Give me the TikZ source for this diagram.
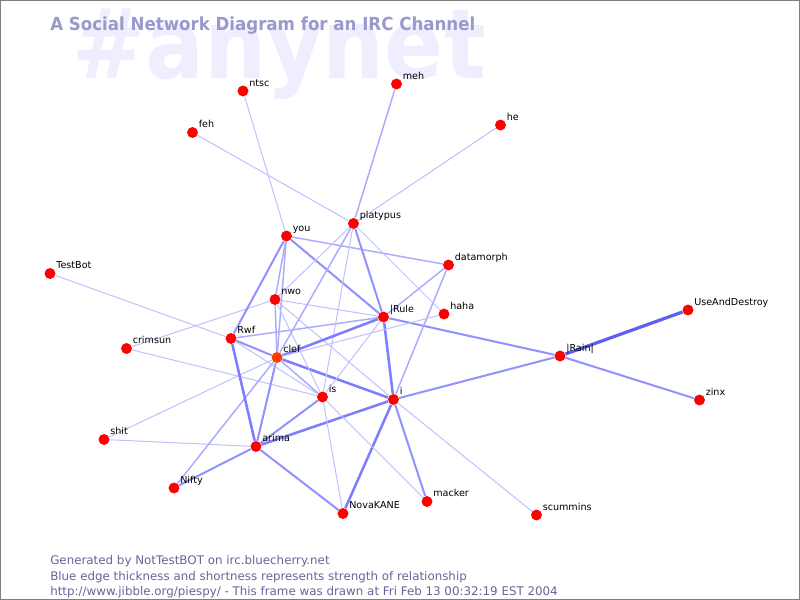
\documentclass[tikz,border=0pt]{standalone}
\usepackage{fontspec}
\setmainfont{DejaVu Sans}
\usepackage{graphicx}
\definecolor{anybg}{RGB}{238,238,255}
\definecolor{titlec}{RGB}{153,153,204}
\definecolor{footc}{RGB}{102,102,153}
\definecolor{edgeA}{RGB}{192,192,255}
\definecolor{edgeB}{RGB}{170,170,255}
\definecolor{edgeC}{RGB}{145,145,255}
\definecolor{edgeD}{RGB}{125,125,255}
\definecolor{edgeE}{RGB}{95,95,245}
\definecolor{noder}{RGB}{255,0,0}
\definecolor{nodeo}{RGB}{255,60,0}
\pgfdeclarelayer{bglayer}
\pgfdeclarelayer{edgelayer}
\pgfsetlayers{bglayer,edgelayer,main}
\begin{document}
\begin{tikzpicture}[x=0.75pt,y=-0.75pt,
  pnode/.style={circle,fill=noder,draw=none,inner sep=0pt,minimum size=8.2pt},
  lab/.style={anchor=base west,inner sep=0pt,font=\fontsize{7.2}{8}\selectfont,text=black},
  ea/.style={draw=edgeA,line width=0.75pt},
  eb/.style={draw=edgeB,line width=1.1pt},
  ec/.style={draw=edgeC,line width=1.5pt},
  ed/.style={draw=edgeD,line width=1.9pt},
  ee/.style={draw=edgeE,line width=2.4pt},
  foot/.style={anchor=base west,inner sep=0pt,text=footc,font=\fontsize{8.9}{10}\selectfont}]
\useasboundingbox (0,0) rectangle (800,600);
\begin{pgfonlayer}{bglayer}
\fill[white] (0,0) rectangle (800,600);
\draw[gray,line width=0.75pt] (0.5,0.5) rectangle (799.5,599.5);
\node[anchor=base west,inner sep=0pt,text=anybg,font=\bfseries\fontsize{66}{66}\selectfont] (anynet) at (72,78) {\scalebox{0.99}[1.1]{\#anynet}};
\node[anchor=base west,inner sep=0pt,text=titlec,font=\bfseries\fontsize{13.5}{14}\selectfont] (title) at (50,30) {\scalebox{0.924}[1]{A Social Network Diagram for an IRC Channel}};
\end{pgfonlayer}
% nodes
\node[pnode] (ntsc) at (243,91) {};
\node[pnode] (meh) at (396.5,84) {};
\node[pnode] (he) at (500.5,125) {};
\node[pnode] (feh) at (192.5,132.5) {};
\node[pnode] (platypus) at (353.5,223.5) {};
\node[pnode] (you) at (286.5,236) {};
\node[pnode] (datamorph) at (448.5,265) {};
\node[pnode] (TestBot) at (50,273.5) {};
\node[pnode] (nwo) at (275,299.5) {};
\node[pnode] (haha) at (444,314) {};
\node[pnode] (lRule) at (383.5,317) {};
\node[pnode] (UseAndDestroy) at (688,310) {};
\node[pnode] (crimsun) at (126.5,348.5) {};
\node[pnode] (Rwf) at (231,338.5) {};
\node[pnode,fill=nodeo] (clef) at (277,357.5) {};
\node[pnode] (lRain) at (560,356) {};
\node[pnode] (is) at (322.5,397) {};
\node[pnode] (i) at (393.5,399.5) {};
\node[pnode] (zinx) at (699.5,400) {};
\node[pnode] (shit) at (104,439.5) {};
\node[pnode] (arima) at (256,446.5) {};
\node[pnode] (Nifty) at (174,488) {};
\node[pnode] (macker) at (427,501.5) {};
\node[pnode] (NovaKANE) at (343,513.5) {};
\node[pnode] (scummins) at (536.5,515) {};
% labels
\node[lab] (ntsc-l) at (249,86) {ntsc};
\node[lab] (meh-l) at (402.5,79) {meh};
\node[lab] (he-l) at (506.5,120) {he};
\node[lab] (feh-l) at (198.5,127.5) {feh};
\node[lab] (platypus-l) at (359.5,218.5) {platypus};
\node[lab] (you-l) at (292.5,231) {you};
\node[lab] (datamorph-l) at (454.5,260) {datamorph};
\node[lab] (TestBot-l) at (56,268.5) {TestBot};
\node[lab] (nwo-l) at (281,294.5) {nwo};
\node[lab] (haha-l) at (450,309) {haha};
\node[lab] (lRule-l) at (389.5,312) {|Rule};
\node[lab] (UseAndDestroy-l) at (694,305) {UseAndDestroy};
\node[lab] (crimsun-l) at (132.5,343.5) {crimsun};
\node[lab] (Rwf-l) at (237,333.5) {Rwf};
\node[lab] (clef-l) at (283,352.5) {clef};
\node[lab] (lRain-l) at (566,351) {|Rain|};
\node[lab] (is-l) at (328.5,392) {is};
\node[lab] (i-l) at (399.5,394.5) {i};
\node[lab] (zinx-l) at (705.5,395) {zinx};
\node[lab] (shit-l) at (110,434.5) {shit};
\node[lab] (arima-l) at (262,441.5) {arima};
\node[lab] (Nifty-l) at (180,483) {Nifty};
\node[lab] (macker-l) at (433,496.5) {macker};
\node[lab] (NovaKANE-l) at (349,508.5) {NovaKANE};
\node[lab] (scummins-l) at (542.5,510) {scummins};
% edges
\begin{pgfonlayer}{edgelayer}
\draw[ea] (ntsc) -- (you);
\draw[ea] (feh) -- (platypus);
\draw[eb] (meh) -- (platypus);
\draw[ea] (he) -- (platypus);
\draw[ea] (TestBot) -- (Rwf);
\draw[ea] (crimsun) -- (nwo);
\draw[ea] (crimsun) -- (is);
\draw[ea] (shit) -- (clef);
\draw[ea] (shit) -- (arima);
\draw[eb] (Nifty) -- (clef);
\draw[ec] (Nifty) -- (arima);
\draw[ea] (i) -- (scummins);
\draw[ec] (i) -- (macker);
\draw[ec] (lRain) -- (i);
\draw[ec] (lRule) -- (lRain);
\draw[ec] (lRain) -- (zinx);
\draw[ee] (lRain) -- (UseAndDestroy);
\draw[ed] (i) -- (NovaKANE);
\draw[ed] (arima) -- (i);
\draw[ed] (clef) -- (i);
\draw[ed] (lRule) -- (i);
\draw[eb] (datamorph) -- (i);
\draw[ea] (nwo) -- (i);
\draw[ec] (arima) -- (NovaKANE);
\draw[ea] (is) -- (NovaKANE);
\draw[ea] (is) -- (macker);
\draw[ec] (is) -- (arima);
\draw[ed] (Rwf) -- (arima);
\draw[ec] (clef) -- (arima);
\draw[eb] (clef) -- (is);
\draw[ea] (Rwf) -- (is);
\draw[ec] (Rwf) -- (clef);
\draw[eb] (Rwf) -- (lRule);
\draw[ec] (you) -- (Rwf);
\draw[eb] (you) -- (nwo);
\draw[eb] (you) -- (clef);
\draw[ec] (you) -- (lRule);
\draw[eb] (you) -- (datamorph);
\draw[ea] (nwo) -- (lRule);
\draw[eb] (nwo) -- (clef);
\draw[ea] (nwo) -- (is);
\draw[ea] (platypus) -- (nwo);
\draw[eb] (platypus) -- (clef);
\draw[ea] (platypus) -- (is);
\draw[ec] (platypus) -- (lRule);
\draw[ea] (platypus) -- (haha);
\draw[ed] (clef) -- (lRule);
\draw[ea] (clef) -- (haha);
\draw[eb] (datamorph) -- (lRule);
\draw[ea] (lRule) -- (is);
\end{pgfonlayer}
% footer
\node[foot] (f1) at (50,564) {Generated by NotTestBOT on irc.bluecherry.net};
\node[foot] (f2) at (50,580) {Blue edge thickness and shortness represents strength of relationship};
\node[foot] (f3) at (50,595) {http://www.jibble.org/piespy/ - This frame was drawn at Fri Feb 13 00:32:19 EST 2004};
\end{tikzpicture}
\end{document}
